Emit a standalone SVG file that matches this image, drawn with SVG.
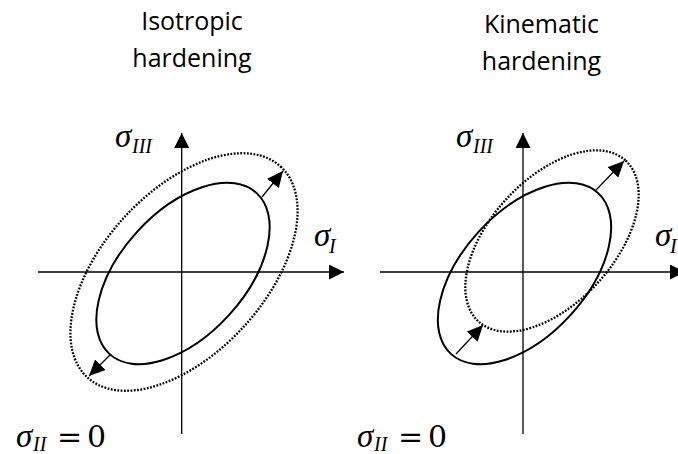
<svg xmlns="http://www.w3.org/2000/svg" width="678" height="454" viewBox="0 0 678 454">
<style>
.title{font-family:"Open Sans","Liberation Sans",sans-serif;font-size:25px;fill:#000;text-anchor:middle}
.sig{font-family:"Liberation Serif","DejaVu Serif",serif;font-size:33px;font-style:italic;fill:#000}
.sub{font-family:"Liberation Serif","DejaVu Serif",serif;font-size:20px;font-style:italic;fill:#000}
.op{font-family:"DejaVu Serif","Liberation Serif",serif;font-size:30px;fill:#000}
.axis{stroke:#000;stroke-width:1.3;fill:none}
.solid{stroke:#000;stroke-width:2;fill:none}
.dotted{stroke:#000;stroke-width:2.3;fill:none;stroke-dasharray:1.8 1.5}
.arrow{stroke:#000;stroke-width:1.3;fill:none}
</style>
<defs>
<marker id="axhead" markerUnits="userSpaceOnUse" markerWidth="16" markerHeight="15" refX="15" refY="7.5" orient="auto">
<path d="M0,0 L15,7.5 L0,15 z" fill="#000"/>
</marker>
<marker id="smhead" markerUnits="userSpaceOnUse" markerWidth="17" markerHeight="15" refX="16" refY="7.5" orient="auto">
<path d="M0,0 L16,7.5 L0,15 z" fill="#000"/>
</marker>
</defs>
<rect width="678" height="454" fill="#fff"/>

<g id="title-isotropic">
<text class="title" x="192" y="30">Isotropic</text>
<text class="title" x="192" y="67">hardening</text>
</g>
<g id="title-kinematic">
<text class="title" x="541.5" y="33">Kinematic</text>
<text class="title" x="541.5" y="70">hardening</text>
</g>

<g id="axes-left">
<line class="axis" x1="181.7" y1="434" x2="181.7" y2="133" marker-end="url(#axhead)"/>
<line class="axis" x1="38" y1="272" x2="344" y2="272" marker-end="url(#axhead)"/>
</g>
<g id="axes-right">
<line class="axis" x1="523" y1="434" x2="523" y2="133" marker-end="url(#axhead)"/>
<line class="axis" x1="380" y1="272" x2="685" y2="272" marker-end="url(#axhead)"/>
</g>

<g id="labels-left">
<text class="sig" x="115" y="146.5">σ</text>
<text class="sub" x="132" y="153">III</text>
<text class="sig" x="314" y="246">σ</text>
<text class="sub" x="329" y="252.5">I</text>
<text class="sig" x="16" y="446.5">σ</text>
<text class="sub" x="33" y="450.5">II</text>
<text class="op" x="57" y="447">=</text>
<text class="op" x="87" y="447">0</text>
</g>
<g id="labels-right">
<text class="sig" x="456" y="146.5">σ</text>
<text class="sub" x="473" y="153">III</text>
<text class="sig" x="655" y="246">σ</text>
<text class="sub" x="670" y="252.5">I</text>
<text class="sig" x="357" y="446.5">σ</text>
<text class="sub" x="374" y="450.5">II</text>
<text class="op" x="398" y="447">=</text>
<text class="op" x="428" y="447">0</text>
</g>

<g id="iso-initial">
<ellipse class="solid" cx="183" cy="273.5" rx="109" ry="62" transform="rotate(-47.5 183 273.5)"/>
</g>
<g id="iso-hardened">
<ellipse class="dotted" cx="184" cy="272" rx="143" ry="81" transform="rotate(-47.5 184 272)"/>
</g>
<g id="kin-initial">
<ellipse class="solid" cx="524.5" cy="273.5" rx="109" ry="62" transform="rotate(-47.5 524.5 273.5)"/>
</g>
<g id="kin-hardened">
<ellipse class="dotted" cx="552" cy="241" rx="109" ry="62" transform="rotate(-47.5 552 241)"/>
</g>

<g id="connectors">
<line class="arrow" x1="262" y1="197" x2="283" y2="171" marker-end="url(#smhead)"/>
<line class="arrow" x1="110" y1="355" x2="89" y2="376" marker-end="url(#smhead)"/>
<line class="arrow" x1="596" y1="190" x2="624" y2="161" marker-end="url(#smhead)"/>
<line class="arrow" x1="456" y1="354" x2="483" y2="325" marker-end="url(#smhead)"/>
</g>
</svg>
